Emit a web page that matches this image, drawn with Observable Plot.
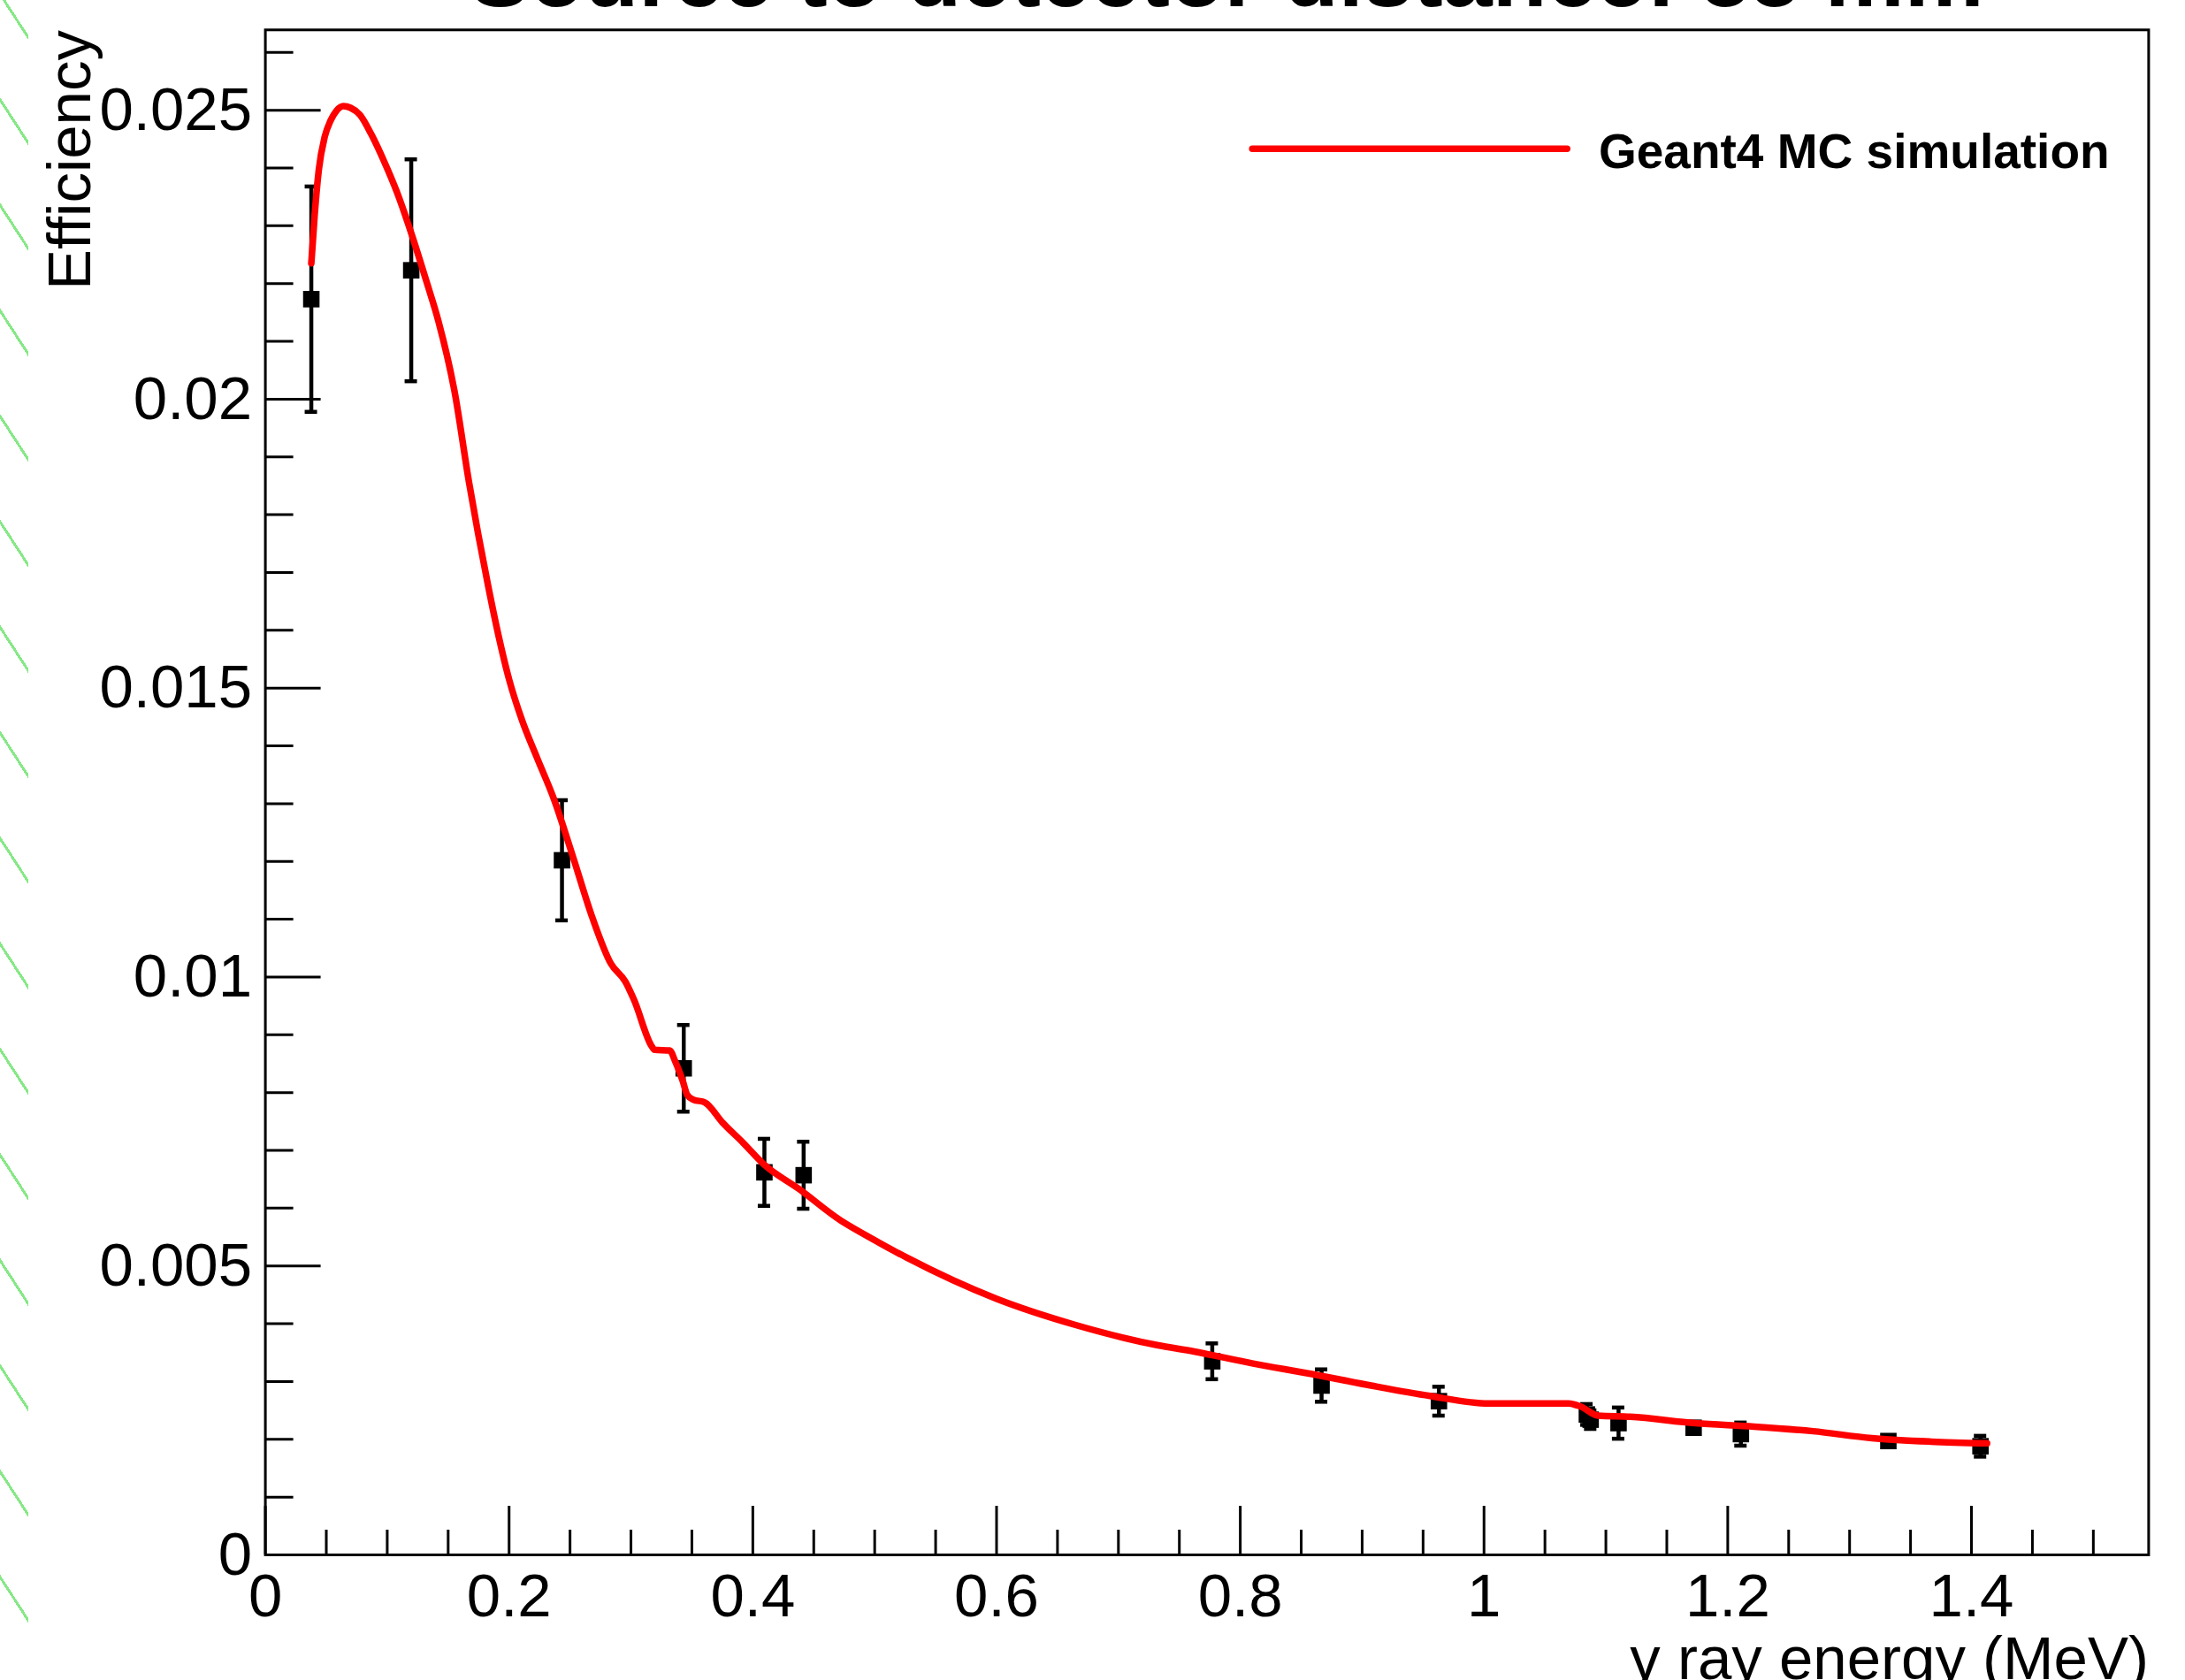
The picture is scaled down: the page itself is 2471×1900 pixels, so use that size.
<!DOCTYPE html>
<html>
<head>
<meta charset="utf-8">
<script src="https://cdn.jsdelivr.net/npm/d3@7"></script>
<script src="https://cdn.jsdelivr.net/npm/@observablehq/plot@0.6"></script>
<style>
html, body { margin: 0; padding: 0; background: #ffffff; }
#wrap { position: relative; width: 2471px; height: 1900px; overflow: hidden; background: #ffffff; }
#hatch { position: absolute; left: 0; top: 0; width: 32px; height: 1900px;
  background: repeating-linear-gradient(57deg, rgba(255,255,255,0) 0px, rgba(255,255,255,0) 62px, #86e886 62px, #86e886 65px); }
#chart { position: absolute; left: 0; top: 0; }
</style>
</head>
<body>
<div id="wrap"><div id="hatch"></div><div id="chart"></div></div>
<script>
// ---- text ----
const titleText = "Source to detector distance: 55 mm";
const xLabelText = "γ ray energy (MeV)";
const yLabelText = "Efficiency";
const legendText = "Geant4 MC simulation";

// ---- measured points (energy in MeV, efficiency, error) ----
const expEnergy = [0.0377, 0.1197, 0.2434, 0.3433, 0.4095, 0.4417, 0.7770, 0.8667, 0.9630, 1.0844, 1.0875, 1.1104, 1.1720, 1.2108, 1.3318, 1.4074];
const expEff    = [0.02173, 0.02223, 0.01202, 0.00842, 0.00662, 0.00657, 0.00335, 0.00293, 0.00266, 0.00243, 0.00234, 0.00228, 0.00220, 0.00209, 0.00197, 0.00188];
const expErr    = [0.00195, 0.00192, 0.00104, 0.00075, 0.00058, 0.00058, 0.00031, 0.00028, 0.00025, 0.00018, 0.00016, 0.00027, 0.00008, 0.00020, 0.00008, 0.00018];

// ---- Geant4 simulation curve ----
const simEnergy = [0.0377, 0.0405, 0.0438, 0.0487, 0.0535, 0.0583, 0.0640, 0.0700, 0.0776, 0.0870, 0.0971, 0.1080, 0.1199, 0.1320, 0.1420, 0.1551, 0.1672, 0.1828, 0.1914, 0.2000, 0.2110, 0.2228, 0.2373, 0.2518, 0.2688, 0.2833, 0.2954, 0.3026, 0.3171, 0.3195, 0.3317, 0.3365, 0.3425, 0.3462, 0.3510, 0.3607, 0.3752, 0.3921, 0.4090, 0.4380, 0.4719, 0.4937, 0.5258, 0.6002, 0.6630, 0.7317, 0.7621, 0.8106, 0.8589, 0.9073, 0.9557, 1.0040, 1.0693, 1.0790, 1.0935, 1.1200, 1.1733, 1.2217, 1.2700, 1.3184, 1.3668, 1.4128];
const simEff    = [0.02235, 0.02320, 0.02396, 0.02454, 0.02482, 0.02499, 0.02507, 0.02504, 0.02492, 0.02458, 0.02413, 0.02358, 0.02286, 0.02205, 0.02135, 0.02015, 0.01855, 0.01677, 0.01590, 0.01515, 0.01442, 0.01380, 0.01305, 0.01212, 0.01100, 0.01024, 0.00992, 0.00960, 0.00880, 0.00874, 0.00873, 0.00853, 0.00820, 0.00796, 0.00788, 0.00783, 0.00748, 0.00713, 0.00676, 0.00633, 0.00579, 0.00552, 0.00515, 0.00443, 0.00399, 0.00363, 0.00352, 0.00331, 0.00313, 0.00293, 0.00275, 0.00262, 0.00262, 0.00257, 0.00241, 0.00239, 0.00228, 0.00222, 0.00214, 0.00202, 0.00196, 0.00193];

// ---- ticks ----
const xTicks = [0, 0.2, 0.4, 0.6, 0.8, 1, 1.2, 1.4];
const yTicks = [0, 0.005, 0.01, 0.015, 0.02, 0.025];
const xMinor = d3.range(0, 1.5451, 0.05).filter(v => Math.abs(v / 0.2 - Math.round(v / 0.2)) > 1e-6);
const yMinor = d3.range(0, 0.02641, 0.001).filter(v => Math.abs(v / 0.005 - Math.round(v / 0.005)) > 1e-6);

const expData = expEnergy.map((e, i) => ({e, v: expEff[i], lo: expEff[i] - expErr[i], hi: expEff[i] + expErr[i]}));
const simData = simEnergy.map((e, i) => ({e, v: simEff[i]}));

// ---- layout ----
const W = 2471, H = 1900;
const mL = 299.6, mR = 41.6, mT = 33.3, mB = 142;
const frameW = W - mL - mR, frameH = H - mT - mB;
const font = "'Liberation Sans', Arial, Helvetica, sans-serif";
const fmt = d3.format("~g");
const lineShape = {draw(context, l) { context.moveTo(0, 0); context.lineTo(0, -l); }};

const chart = Plot.plot({
  width: W, height: H,
  marginLeft: mL, marginRight: mR, marginTop: mT, marginBottom: mB,
  style: {fontFamily: font, background: "transparent", overflow: "visible", color: "black"},
  x: {domain: [0, 1.5454]},
  y: {domain: [0, 0.02639]},
  marks: [
    // minor / major ticks pointing inside the frame
    Plot.tickY(yMinor, {y: d => d, stroke: "black", strokeWidth: 3, insetRight: frameW - 32}),
    Plot.tickY(yTicks, {y: d => d, stroke: "black", strokeWidth: 3, insetRight: frameW - 63}),
    Plot.tickX(xMinor, {x: d => d, stroke: "black", strokeWidth: 3, insetTop: frameH - 28}),
    Plot.tickX(xTicks, {x: d => d, stroke: "black", strokeWidth: 3, insetTop: frameH - 55}),
    Plot.frame({stroke: "black", strokeWidth: 3}),
    Plot.axisY({ticks: yTicks, tickSize: 0, tickPadding: 15, tickFormat: fmt, fontSize: 69, label: null, stroke: "none"}),
    Plot.axisX({ticks: xTicks, tickSize: 0, tickPadding: 20, tickFormat: fmt, fontSize: 69, label: null, stroke: "none"}),
    // error bars
    Plot.ruleX(expData, {x: "e", y1: "lo", y2: "hi", stroke: "black", strokeWidth: 4.5}),
    Plot.ruleY(expData, {y: "lo", x1: "e", x2: "e", insetLeft: -7, insetRight: -7, stroke: "black", strokeWidth: 4.5}),
    Plot.ruleY(expData, {y: "hi", x1: "e", x2: "e", insetLeft: -7, insetRight: -7, stroke: "black", strokeWidth: 4.5}),
    Plot.dot(expData, {x: "e", y: "v", symbol: "square", r: 10.5, fill: "black", stroke: "none"}),
    // simulation curve
    Plot.line(simData, {x: "e", y: "v", stroke: "#ff0000", strokeWidth: 7.5, curve: "monotone-x"}),
    // legend
    Plot.vector([legendText], {frameAnchor: "top-right", dx: -657.7, dy: 134.5, rotate: 270, length: 356, anchor: "start", shape: lineShape, stroke: "#ff0000", strokeWidth: 7.5}),
    Plot.text([legendText], {frameAnchor: "top-right", dx: -621.9, dy: 155.7, text: d => d, textAnchor: "start", lineAnchor: "bottom", fontSize: 55, fontWeight: "bold", fill: "black"}),
    // titles
    Plot.text([titleText], {frameAnchor: "top", dx: 22.5, dy: -27.3, text: d => d, textAnchor: "middle", lineAnchor: "bottom", fontSize: 101, fontWeight: "bold", fill: "black"}),
    Plot.text([xLabelText], {frameAnchor: "bottom-right", dy: 140, text: d => d, textAnchor: "end", lineAnchor: "bottom", fontSize: 69, fill: "black"}),
    Plot.text([yLabelText], {frameAnchor: "top-left", dx: -197.9, dy: 0.2, text: d => d, rotate: -90, textAnchor: "end", lineAnchor: "bottom", fontSize: 69, fill: "black"})
  ]
});
document.getElementById("chart").appendChild(chart);
</script>
</body>
</html>
